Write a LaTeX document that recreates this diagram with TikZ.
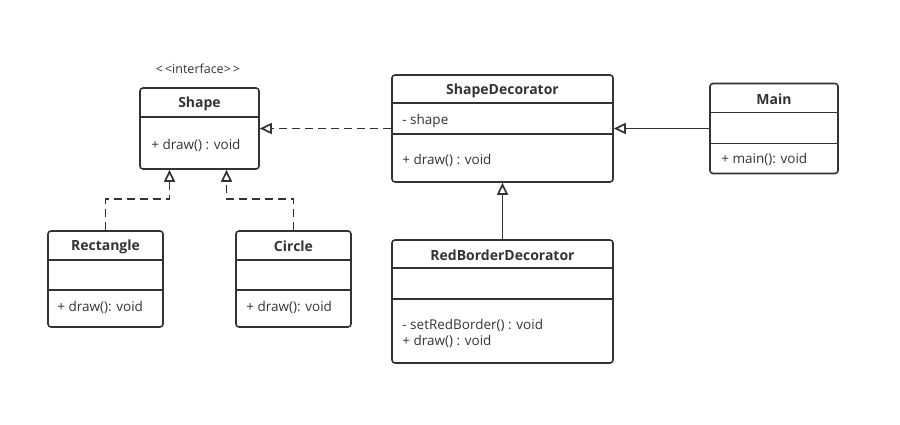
\documentclass[tikz,border=0pt]{standalone}
\usepackage{fontspec}
\setmainfont{Open Sans}
\usepackage{xcolor}
\usetikzlibrary{positioning, arrows.meta}
\definecolor{ink}{HTML}{333333}

\begin{document}
\begin{tikzpicture}[
    x=1pt, y=-1pt,
    every node/.style={text=ink},
    class/.style={draw=ink, line width=1.6pt, rounded corners=3pt},
    title/.style={font=\fontsize{14}{16}\selectfont\bfseries},
    member/.style={anchor=west, align=left, inner sep=0pt, font=\fontsize{13.5}{16}\selectfont},
    divider/.style={draw=ink, line width=1.6pt},
    realize/.style={draw=ink, line width=1.7pt, dash pattern=on 8pt off 5pt, -{Triangle[open, length=12pt, width=11pt]}},
    extend/.style={draw=ink, line width=1.7pt, -{Triangle[open, length=12pt, width=11pt]}}
]
\useasboundingbox (0,0) rectangle (900,425);

% Classes
\node[class, minimum width=119pt, minimum height=81pt] (shape) at (199.5,128.5) {};
\node[class, minimum width=115pt, minimum height=96pt] (rect) at (105.5,279) {};
\node[class, minimum width=115pt, minimum height=96pt] (circle) at (293.5,279) {};
\node[class, minimum width=221pt, minimum height=107pt] (decorator) at (502.5,128.5) {};
\node[class, minimum width=221pt, minimum height=123pt] (redborder) at (502.5,301.5) {};
\node[class, minimum width=128pt, minimum height=90pt] (main) at (774,128.5) {};

% Compartments
\draw[divider] ([yshift=-30pt]shape.north west) -- ([yshift=-30pt]shape.north east);
\draw[divider] ([yshift=-30pt]rect.north west) -- ([yshift=-30pt]rect.north east);
\draw[divider] ([yshift=-60pt]rect.north west) -- ([yshift=-60pt]rect.north east);
\draw[divider] ([yshift=-30pt]circle.north west) -- ([yshift=-30pt]circle.north east);
\draw[divider] ([yshift=-60pt]circle.north west) -- ([yshift=-60pt]circle.north east);
\draw[divider] ([yshift=-29pt]decorator.north west) -- ([yshift=-29pt]decorator.north east);
\draw[divider] ([yshift=-60pt]decorator.north west) -- ([yshift=-60pt]decorator.north east);
\draw[divider] ([yshift=-29pt]redborder.north west) -- ([yshift=-29pt]redborder.north east);
\draw[divider] ([yshift=-60pt]redborder.north west) -- ([yshift=-60pt]redborder.north east);
\draw[divider] ([yshift=-30pt]main.north west) -- ([yshift=-30pt]main.north east);
\draw[divider] ([yshift=-61pt]main.north west) -- ([yshift=-61pt]main.north east);

% Names
\node[font=\fontsize{12.5}{14}\selectfont] (stereo) at (198,69) {<\,<interface>\,>};
\node[title] (shape-name) at ([yshift=-16.5pt]shape.north) {Shape};
\node[title] (rect-name) at ([yshift=-16.5pt]rect.north) {Rectangle};
\node[title] (circle-name) at ([yshift=-16.5pt]circle.north) {Circle};
\node[title] (decorator-name) at ([yshift=-16.5pt]decorator.north) {ShapeDecorator};
\node[title] (redborder-name) at ([yshift=-16.5pt]redborder.north) {RedBorderDecorator};
\node[title] (main-name) at ([yshift=-16.5pt]main.north) {Main};

% Members
\node[member] (shape-ops) at ([xshift=12pt, yshift=-58pt]shape.north west) {+ draw() : void};
\node[member] (rect-ops) at ([xshift=10pt, yshift=-77pt]rect.north west) {+ draw(): void};
\node[member] (circle-ops) at ([xshift=11pt, yshift=-77pt]circle.north west) {+ draw(): void};
\node[member] (decorator-attr) at ([xshift=11pt, yshift=-47pt]decorator.north west) {- shape};
\node[member] (decorator-ops) at ([xshift=11pt, yshift=-86pt]decorator.north west) {+ draw() : void};
\node[member] (redborder-ops) at ([xshift=11pt, yshift=-94pt]redborder.north west) {- setRedBorder() : void\\+ draw() : void};
\node[member] (main-ops) at ([xshift=12pt, yshift=-77pt]main.north west) {+ main(): void};

% Relations
\draw[realize] (rect.north) -- ++(0,-31) -| ([xshift=-30pt]shape.south);
\draw[realize] (circle.north) -- ++(0,-31) -| ([xshift=27pt]shape.south);
\draw[realize] (decorator) -- (shape);
\draw[extend] (redborder) -- (decorator);
\draw[extend] (main.west) -- (main.west -| decorator.east);

\end{tikzpicture}
\end{document}
